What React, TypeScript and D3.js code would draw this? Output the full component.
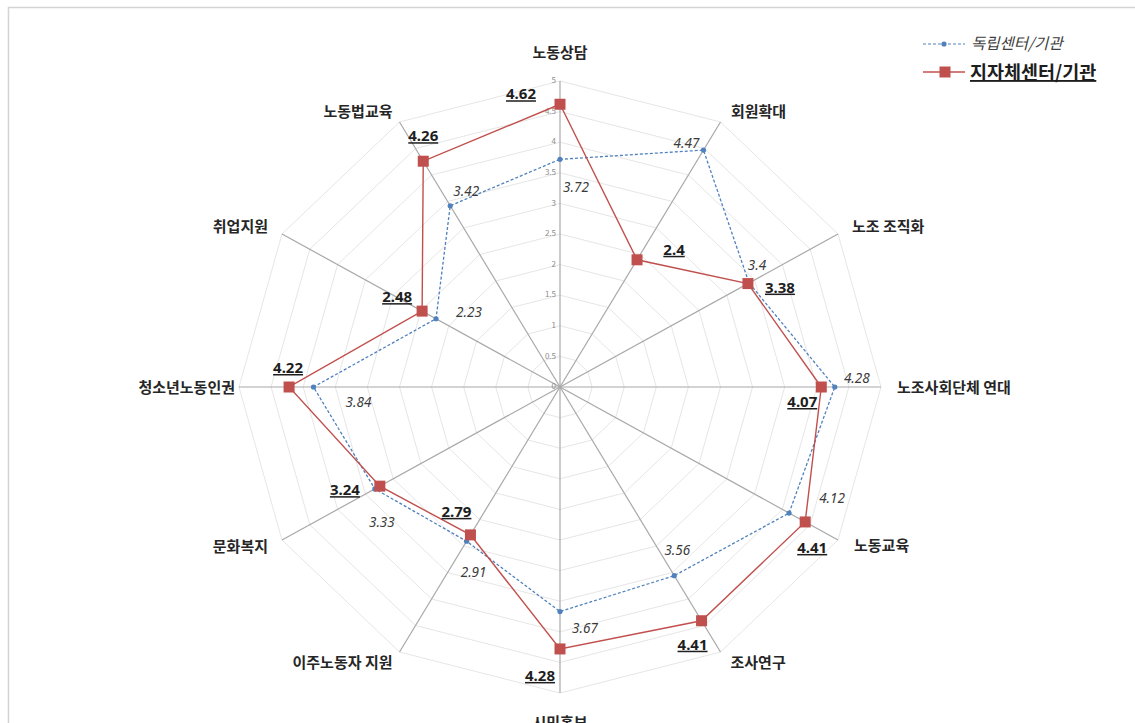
import React from "react";
import * as d3 from "d3";

// Radar categories, clockwise from the top
const categories = [
  "노동상담",
  "회원확대",
  "노조 조직화",
  "노조사회단체 연대",
  "노동교육",
  "조사연구",
  "시민홍보",
  "이주노동자 지원",
  "문화복지",
  "청소년노동인권",
  "취업지원",
  "노동법교육",
];

// 독립센터/기관
const independentValues = [3.72, 4.47, 3.4, 4.28, 4.12, 3.56, 3.67, 2.91, 3.33, 3.84, 2.23, 3.42];
// 지자체센터/기관
const localGovValues = [4.62, 2.4, 3.38, 4.07, 4.41, 4.41, 4.28, 2.79, 3.24, 4.22, 2.48, 4.26];

const tickLevels = [0, 0.5, 1, 1.5, 2, 2.5, 3, 3.5, 4, 4.5, 5];

const seriesNames = ["독립센터/기관", "지자체센터/기관"];

// Layout
const W = 1135;
const H = 723;
const CX = 560;
const CY = 387;
const BLUE = "#4f81bd";
const RED = "#c0504d";
const FONT = "'Noto Sans CJK KR', 'Noto Sans', sans-serif";

// label placement relative to each marker: [dx, dy of baseline]
const redLabelOffset: [number, number][] = [
  [-39, -5], [37, -5], [32, 9], [-19, 20], [7, 31], [-9, 29],
  [-20, 32], [-14, -18], [-35, 9], [-1, -14], [-25, -9], [0, -20],
];
const blueLabelOffset: [number, number][] = [
  [16, 33], [-17, -2], [8, -13], [22, -4], [43, -10], [3, -21],
  [25, 21], [7, 36], [7, 38], [45, 20], [33, -2], [16, -10],
];
// category label placement relative to the axis end: [anchor, dx, dy]
const catLabelPos: [string, number, number][] = [
  ["middle", 0, -23],
  ["middle", 38, -5],
  ["start", 14, -2],
  ["start", 16, 6],
  ["start", 16, 11],
  ["start", 10, 16],
  ["middle", 0, 35],
  ["end", -7, 16],
  ["end", -14, 12],
  ["end", -4, 6],
  ["end", -14, -2],
  ["end", -7, -5],
];

const rx = d3.scaleLinear().domain([0, 5]).range([0, 321]);
const ry = d3.scaleLinear().domain([0, 5]).range([0, 306]);
const angle = d3.scaleLinear().domain([0, categories.length]).range([0, 2 * Math.PI]);

const pt = (i: number, v: number): [number, number] => {
  const a = angle(i);
  return [CX + rx(v) * Math.sin(a), CY - ry(v) * Math.cos(a)];
};

const closedLine = d3.line<[number, number]>().curve(d3.curveLinearClosed);

export default function App() {
  const blueLine = closedLine(independentValues.map((v, i) => pt(i, v))) || "";
  const redLine = closedLine(localGovValues.map((v, i) => pt(i, v))) || "";

  return (
    <div style={{ position: "fixed", left: 0, top: 0, width: W, height: H, background: "#fff" }}>
      <svg width={W} height={H} style={{ display: "block" }} fontFamily={FONT}>
        <rect x={0} y={0} width={W} height={H} fill="#fff" />
        <rect x={8.5} y={7.5} width={W + 20} height={H + 20} fill="none" stroke="#d4d4d4" strokeWidth={1.5} />

        {/* grid rings */}
        {tickLevels.slice(1).map((t) => (
          <path
            key={"ring" + t}
            d={closedLine(categories.map((_, i) => pt(i, t))) || ""}
            fill="none"
            stroke="#e6e6e6"
            strokeWidth={1}
          />
        ))}

        {/* spokes */}
        {categories.map((c, i) => {
          const [x, y] = pt(i, 5);
          return <line key={"sp" + c} x1={CX} y1={CY} x2={x} y2={y} stroke="#a8a8a8" strokeWidth={1.2} />;
        })}

        {/* tick labels */}
        {tickLevels.map((t) => (
          <text
            key={"tk" + t}
            x={CX - 4}
            y={CY - ry(t)}
            textAnchor="end"
            dominantBaseline="middle"
            fontSize={8}
            fill="#8c8c8c"
          >
            {String(t)}
          </text>
        ))}

        {/* series */}
        <path d={blueLine} fill="none" stroke={BLUE} strokeWidth={1.3} strokeDasharray="3,2" />
        {independentValues.map((v, i) => {
          const [x, y] = pt(i, v);
          return <circle key={"bc" + i} cx={x} cy={y} r={2.6} fill={BLUE} />;
        })}
        <path d={redLine} fill="none" stroke={RED} strokeWidth={1.4} />
        {localGovValues.map((v, i) => {
          const [x, y] = pt(i, v);
          return <rect key={"rs" + i} x={x - 5.5} y={y - 5.5} width={11} height={11} fill={RED} />;
        })}

        {/* value labels */}
        {independentValues.map((v, i) => {
          const [x, y] = pt(i, v);
          const [dx, dy] = blueLabelOffset[i];
          return (
            <text key={"bl" + i} x={x + dx} y={y + dy} textAnchor="middle" fontSize={13.5} fontStyle="italic" fill="#3a3a3a" fontFamily="'Noto Sans', sans-serif">
              {String(v)}
            </text>
          );
        })}
        {localGovValues.map((v, i) => {
          const [x, y] = pt(i, v);
          const [dx, dy] = redLabelOffset[i];
          return (
            <text key={"rl" + i} x={x + dx} y={y + dy} textAnchor="middle" fontSize={15} fontWeight="bold" fill="#1e1e1e" textDecoration="underline" fontFamily="'Noto Sans', sans-serif">
              {String(v)}
            </text>
          );
        })}

        {/* category labels */}
        {categories.map((c, i) => {
          const [x, y] = pt(i, 5);
          const [anchor, dx, dy] = catLabelPos[i];
          return (
            <text key={"cl" + c} x={x + dx} y={y + dy} textAnchor={anchor as any} fontSize={15} fontWeight="bold" fill="#262626">
              {c}
            </text>
          );
        })}

        {/* legend */}
        <g>
          <line x1={923} y1={44} x2={965} y2={44} stroke={BLUE} strokeWidth={1.2} strokeDasharray="3,2" />
          <circle cx={944} cy={44} r={2.6} fill={BLUE} />
          <text x={971} y={49} fontSize={15.5} fontStyle="italic" fill="#404040">
            {seriesNames[0]}
          </text>
          <line x1={923} y1={72} x2={965} y2={72} stroke={RED} strokeWidth={1.6} />
          <rect x={939.5} y={66.5} width={11} height={11} fill={RED} />
          <text x={970} y={79} fontSize={18.5} fontWeight="bold" fill="#1e1e1e" textDecoration="underline">
            {seriesNames[1]}
          </text>
        </g>
      </svg>
    </div>
  );
}
